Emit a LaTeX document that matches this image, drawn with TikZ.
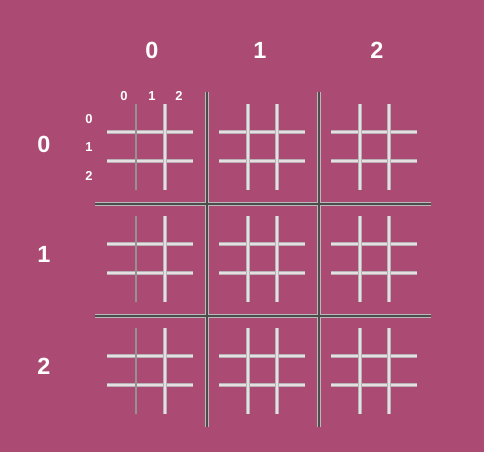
\documentclass[tikz,border=0pt]{standalone}
\usepackage{fontspec}
\setmainfont{Liberation Sans}
\definecolor{bgpink}{HTML}{AB4A72}
\definecolor{smedge}{HTML}{B8B0B4}
\definecolor{smcore}{HTML}{E4E0E2}
\begin{document}
\begin{tikzpicture}[x=1bp,y=-1bp,
  bigout/.style={line width=4.5bp,draw=gray!55},
  bigin/.style={line width=1.8bp,draw=black!70},
  smout/.style={line width=3.2bp,draw=smedge},
  smin/.style={line width=1.5bp,draw=smcore},
  smdark/.style={line width=2bp,draw=gray!85},
  hdr/.style={text=white,font=\fontsize{23.5}{24}\selectfont\bfseries,inner sep=0pt},
  sub/.style={text=white,font=\fontsize{13}{14}\selectfont\bfseries,inner sep=0pt}]
\fill[bgpink] (0,0) rectangle (484,452);
\useasboundingbox (0,0) rectangle (484,452);
% headers
\node[hdr] (c0) at (152,50) {0};
\node[hdr] (c1) at (260,50) {1};
\node[hdr] (c2) at (377,50) {2};
\node[hdr] (r0) at (44,144) {0};
\node[hdr] (r1) at (44,254) {1};
\node[hdr] (r2) at (44,366) {2};
% sub labels
\node[sub] (s0) at (124,96) {0};
\node[sub] (s1) at (152,96) {1};
\node[sub] (s2) at (179,96) {2};
\node[sub] (t0) at (89,119) {0};
\node[sub] (t1) at (89,147) {1};
\node[sub] (t2) at (89,176) {2};
% small grids
\foreach \cx/\col in {107/0,219/1,331/2}{
  \foreach \cy in {104,216,328}{
    \pgfmathsetmacro{\xa}{\cx+29}
    \pgfmathsetmacro{\xb}{\cx+58}
    \pgfmathsetmacro{\xe}{\cx+86}
    \pgfmathsetmacro{\ya}{\cy+28}
    \pgfmathsetmacro{\yb}{\cy+57}
    \pgfmathsetmacro{\ye}{\cy+86}
    \coordinate (h1a) at (\cx,\ya); \coordinate (h1b) at (\xe,\ya);
    \coordinate (h2a) at (\cx,\yb); \coordinate (h2b) at (\xe,\yb);
    \coordinate (v1a) at (\xa,\cy); \coordinate (v1b) at (\xa,\ye);
    \coordinate (v2a) at (\xb,\cy); \coordinate (v2b) at (\xb,\ye);
    \draw[smout] (h1a) -- (h1b); \draw[smin] (h1a) -- (h1b);
    \draw[smout] (h2a) -- (h2b); \draw[smin] (h2a) -- (h2b);
    \ifnum\col=0
      \draw[smdark] (v1a) -- (v1b);
    \else
      \draw[smout] (v1a) -- (v1b); \draw[smin] (v1a) -- (v1b);
    \fi
    \draw[smout] (v2a) -- (v2b); \draw[smin] (v2a) -- (v2b);
  }
}
% big grid
\coordinate (V1t) at (207,92); \coordinate (V1b) at (207,427);
\coordinate (V2t) at (319,92); \coordinate (V2b) at (319,427);
\coordinate (H1l) at (95,204); \coordinate (H1r) at (431,204);
\coordinate (H2l) at (95,316); \coordinate (H2r) at (431,316);
\foreach \a/\b in {V1t/V1b,V2t/V2b,H1l/H1r,H2l/H2r}{
  \draw[bigout] (\a) -- (\b);
}
\foreach \a/\b in {V1t/V1b,V2t/V2b,H1l/H1r,H2l/H2r}{
  \draw[bigin] (\a) -- (\b);
}
\end{tikzpicture}
\end{document}
